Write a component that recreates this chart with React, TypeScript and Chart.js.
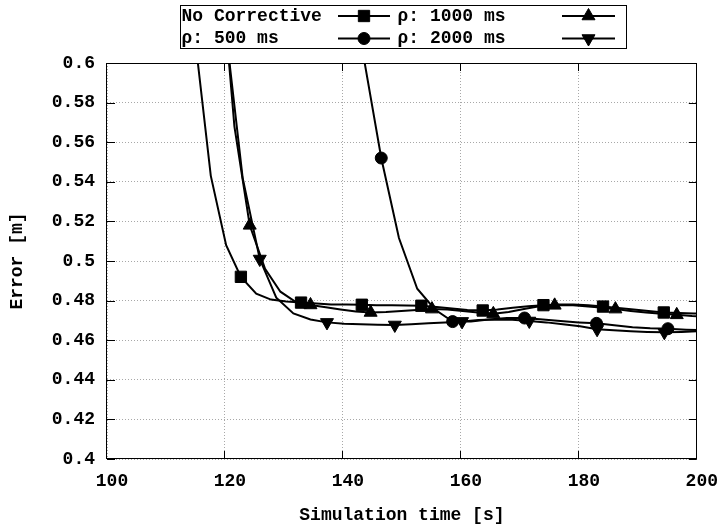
import React, { useEffect, useRef } from 'react';
import { Chart, registerables } from 'chart.js';
import { drawPoint } from 'chart.js/helpers';

Chart.register(...registerables);

// ---------- data ----------
const seriesLabels = ['No Corrective', 'ρ: 500 ms', 'ρ: 1000 ms', 'ρ: 2000 ms'];

const noCorrectiveX = [112.5, 115.1, 117.6, 120.2, 122.7, 125.3, 127.8, 130.4, 132.9, 135.5, 138.0, 140.6, 143.2, 145.7, 148.3, 150.8, 153.3, 155.9, 158.5, 161.1, 163.7, 166.2, 168.8, 171.4, 174.0, 176.5, 179.1, 181.6, 184.1, 186.7, 189.3, 191.8, 194.4, 197.0, 199.5, 202.1];
const noCorrectiveY = [0.72, 0.608, 0.543, 0.508, 0.492, 0.4835, 0.4805, 0.4795, 0.479, 0.4785, 0.478, 0.478, 0.4779, 0.4777, 0.4776, 0.4775, 0.4774, 0.4768, 0.476, 0.4752, 0.475, 0.4755, 0.4764, 0.4772, 0.4777, 0.478, 0.478, 0.4776, 0.477, 0.4763, 0.4755, 0.4747, 0.474, 0.4737, 0.4735, 0.4733];

const rho500X = [134.3, 137.3, 140.4, 143.4, 146.5, 149.5, 152.6, 155.6, 158.6, 161.7, 164.7, 167.8, 170.8, 173.9, 176.9, 180.0, 183.0, 186.0, 189.1, 192.1, 195.1, 198.2, 201.2];
const rho500Y = [1.0, 0.85, 0.7, 0.605, 0.552, 0.5116, 0.486, 0.4755, 0.4694, 0.4695, 0.4705, 0.4712, 0.4712, 0.4705, 0.4697, 0.469, 0.4685, 0.4675, 0.4665, 0.466, 0.4658, 0.4653, 0.465];

const rho1000X = [113.8, 116.4, 119.0, 121.6, 124.2, 126.8, 129.4, 131.9, 134.5, 137.1, 139.6, 142.2, 144.7, 147.3, 149.9, 152.5, 155.1, 157.7, 160.3, 162.9, 165.5, 168.1, 170.7, 173.3, 175.9, 178.5, 181.1, 183.6, 186.2, 188.8, 191.4, 194.0, 196.6, 199.2, 201.8];
const rho1000Y = [0.95, 0.8, 0.66, 0.568, 0.518, 0.496, 0.4845, 0.4795, 0.4778, 0.4766, 0.4755, 0.4745, 0.474, 0.4742, 0.4747, 0.4753, 0.4757, 0.4755, 0.4748, 0.474, 0.4733, 0.4742, 0.4758, 0.4771, 0.4776, 0.4778, 0.4772, 0.4765, 0.4757, 0.4748, 0.474, 0.4733, 0.4728, 0.4722, 0.472];

const rho2000X = [114.5, 117.3, 120.2, 123.0, 125.9, 128.7, 131.6, 134.5, 137.3, 140.2, 143.0, 145.9, 148.8, 151.6, 154.5, 157.3, 160.2, 163.0, 165.9, 168.7, 171.6, 174.5, 177.3, 180.2, 183.1, 185.9, 188.8, 191.6, 194.5, 197.4, 200.2];
const rho2000Y = [1.0, 0.8, 0.615, 0.542, 0.501, 0.4815, 0.4735, 0.4705, 0.469, 0.4683, 0.468, 0.4678, 0.4677, 0.468, 0.4685, 0.469, 0.4695, 0.4702, 0.4705, 0.4703, 0.4697, 0.469, 0.468, 0.467, 0.4655, 0.465, 0.4645, 0.4642, 0.464, 0.4642, 0.4645];

const xTicks = [100, 120, 140, 160, 180, 200];
const yTicks = [0.4, 0.42, 0.44, 0.46, 0.48, 0.5, 0.52, 0.54, 0.56, 0.58, 0.6];

// ---------- styles ----------
const FONT = '"Liberation Mono", "Courier New", monospace';
const MARKER_EVERY = 4;
const markerStyles = [
  { pointStyle: 'rect', rotation: 0, radius: 8 },
  { pointStyle: 'circle', rotation: 0, radius: 6 },
  { pointStyle: 'triangle', rotation: 0, radius: 7.5 },
  { pointStyle: 'triangle', rotation: 180, radius: 7.5 },
];

const toPoints = (xs: number[], ys: number[]) => xs.map((x, i) => ({ x, y: ys[i] }));

const seriesData = [
  toPoints(noCorrectiveX, noCorrectiveY),
  toPoints(rho500X, rho500Y),
  toPoints(rho1000X, rho1000Y),
  toPoints(rho2000X, rho2000Y),
];

// legend layout: [col, row]
const legendSlots = [
  { col: 0, row: 0 },
  { col: 0, row: 1 },
  { col: 1, row: 0 },
  { col: 1, row: 1 },
];

const framePlugin = {
  id: 'gnuFrame',
  afterDraw(chart: any) {
    const { ctx, chartArea } = chart;
    const { left, right, top, bottom } = chartArea;
    ctx.save();
    ctx.strokeStyle = '#000';
    ctx.lineWidth = 1;
    ctx.setLineDash([]);
    ctx.strokeRect(Math.round(left) - 0.5, Math.round(top) + 0.5, Math.round(right) - Math.round(left), Math.round(bottom) - Math.round(top) - 1);
    const tl = 8;
    ctx.beginPath();
    const xs = chart.scales.x;
    xTicks.forEach((v) => {
      const px = Math.round(xs.getPixelForValue(v)) - 0.5;
      ctx.moveTo(px, bottom);
      ctx.lineTo(px, bottom - tl);
      ctx.moveTo(px, top);
      ctx.lineTo(px, top + tl);
    });
    const ys = chart.scales.y;
    yTicks.forEach((v) => {
      const py = Math.round(ys.getPixelForValue(v)) + 0.5;
      ctx.moveTo(left, py);
      ctx.lineTo(left + tl, py);
      ctx.moveTo(right, py);
      ctx.lineTo(right - tl, py);
    });
    ctx.stroke();

    // legend box
    const boxL = 180.5, boxT = 5.5, boxR = 626.5, boxB = 48.5;
    ctx.strokeRect(boxL, boxT, boxR - boxL, boxB - boxT);
    const rowY = [16, 38.5];
    const textX = [181.5, 397.5];
    const sample = [[338, 390], [562, 615]];
    ctx.font = `bold 18px ${FONT}`;
    ctx.textBaseline = 'middle';
    ctx.textAlign = 'left';
    ctx.fillStyle = '#000';
    seriesLabels.forEach((label, i) => {
      const { col, row } = legendSlots[i];
      const y = rowY[row];
      ctx.fillText(label, textX[col], y);
      ctx.beginPath();
      ctx.lineWidth = 2;
      ctx.moveTo(sample[col][0], y);
      ctx.lineTo(sample[col][1], y);
      ctx.stroke();
      const m = markerStyles[i];
      ctx.lineWidth = 1;
      drawPoint(ctx, { pointStyle: m.pointStyle, rotation: m.rotation, radius: m.radius, borderWidth: 1 }, (sample[col][0] + sample[col][1]) / 2, y);
    });
    ctx.restore();
  },
};

export default function App() {
  const ref = useRef<HTMLCanvasElement | null>(null);
  useEffect(() => {
    if (!ref.current) return;
    const tickFont = { family: FONT, size: 18, weight: 'bold' as const };
    const chart = new Chart(ref.current, {
      type: 'line',
      data: {
        datasets: seriesData.map((pts, i) => ({
          label: seriesLabels[i],
          data: pts,
          borderColor: '#000',
          backgroundColor: '#000',
          borderWidth: 2,
          tension: 0,
          fill: false,
          pointStyle: markerStyles[i].pointStyle as any,
          rotation: markerStyles[i].rotation,
          pointRadius: (c: any) => (c.dataIndex % MARKER_EVERY === 0 ? markerStyles[i].radius : 0),
          pointHoverRadius: 0,
          pointBorderWidth: 1,
          pointBorderColor: '#000',
          pointBackgroundColor: '#000',
        })),
      },
      options: {
        responsive: false,
        animation: false,
        events: [],
        layout: { padding: { top: 63, right: 26, left: 0, bottom: 0 } },
        plugins: { legend: { display: false }, tooltip: { enabled: false } },
        scales: {
          x: {
            type: 'linear',
            min: 100,
            max: 200,
            afterFit: (s: any) => { s.height = 70; },
            afterBuildTicks: (s: any) => { s.ticks = xTicks.map((v) => ({ value: v })); },
            ticks: { padding: 12, labelOffset: 5, color: '#000', font: tickFont, callback: (v: any) => String(v) },
            grid: { color: '#a8a8a8', lineWidth: 1, drawTicks: false },
            border: { display: false, dash: [1, 2] },
            title: { display: true, text: 'Simulation time [s]', color: '#000', font: tickFont, padding: { top: 0, bottom: 3 } },
          },
          y: {
            type: 'linear',
            min: 0.4,
            max: 0.6,
            afterFit: (s: any) => { s.width = 107; },
            afterBuildTicks: (s: any) => { s.ticks = yTicks.map((v) => ({ value: v })); },
            ticks: { padding: 12, color: '#000', font: tickFont, callback: (v: any) => String(Number(Number(v).toFixed(2))) },
            grid: { color: '#a8a8a8', lineWidth: 1, drawTicks: false },
            border: { display: false, dash: [1, 2] },
            title: { display: true, text: 'Error [m]', color: '#000', font: tickFont, padding: { top: 7, bottom: 0 } },
          },
        },
      },
      plugins: [framePlugin],
    });
    return () => chart.destroy();
  }, []);
  return (
    <div style={{ position: 'absolute', left: 0, top: 0, width: 725, height: 529, background: '#fff' }}>
      <canvas ref={ref} width={725} height={529} style={{ display: 'block', width: 725, height: 529 }} />
    </div>
  );
}
